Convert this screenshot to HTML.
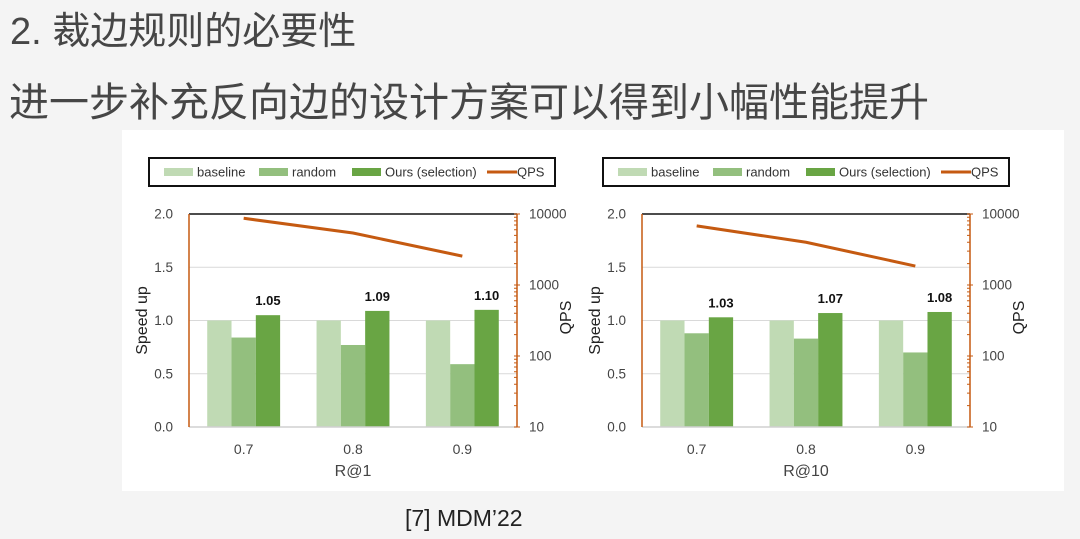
<!DOCTYPE html>
<html><head><meta charset="utf-8">
<style>
html,body{margin:0;padding:0;}
body{width:1080px;height:539px;background:#f4f4f4;position:relative;overflow:hidden;font-family:"Liberation Sans","Noto Sans CJK SC",sans-serif;}
.t{position:absolute;color:#464646;white-space:nowrap;}
</style></head><body>
<div class="t" style="left:10px;top:9px;font-size:38px;line-height:46px;">2. 裁边规则的必要性</div>
<div class="t" style="left:9px;top:79px;font-size:40px;line-height:48px;">进一步补充反向边的设计方案可以得到小幅性能提升</div>
<div class="t" style="left:405px;top:503px;font-size:23px;line-height:30px;color:#222;">[7] MDM’22</div>
<svg id="svg" width="1080" height="539" style="position:absolute;left:0;top:0" xmlns="http://www.w3.org/2000/svg">
<rect x="122" y="130" width="942" height="361" fill="#ffffff"/>
</svg>
<script>
const categories=["0.7","0.8","0.9"];
const leftBaseline=[1,1,1];
const leftRandom=[0.84,0.77,0.59];
const leftOurs=[1.05,1.09,1.10];
const leftQPS=[8700,5400,2550];
const rightBaseline=[1,1,1];
const rightRandom=[0.88,0.83,0.70];
const rightOurs=[1.03,1.07,1.08];
const rightQPS=[6800,4000,1850];
const yTicks=[0,0.5,1.0,1.5,2.0];
const qpsTicks=[10,100,1000,10000];

const NS="http://www.w3.org/2000/svg";
const svg=document.getElementById('svg');
function mk(tag,a,parent){const e=document.createElementNS(NS,tag);for(const k in a)e.setAttribute(k,a[k]);(parent||svg).appendChild(e);return e;}
function txt(s,a,parent){const e=mk('text',Object.assign({'font-family':'Liberation Sans, sans-serif'},a),parent);e.textContent=s;return e;}

function chart(name,ox,legX,xTitle,base,rand,ours,qps){
  const g=mk('g',{});
  
  
  const L=ox,R=ox+328,T=214,B=427;
  const ys=v=>B-(v/2)*(B-T);
  const yq=v=>B-(Math.log10(v)-1)/3*(B-T);
  const bw=(R-L)/3;
  const lg=mk('g',{},g);
  
  
  mk('rect',{x:legX,y:158,width:406,height:28,fill:'#fff',stroke:'#111','stroke-width':2},lg);
  const items=[['baseline','#c0dab4',15],['random','#93bf7e',110],['Ours (selection)','#69a544',203]];
  items.forEach(it=>{
    const r=mk('rect',{x:legX+it[2],y:168,width:29,height:8,fill:it[1]},lg);
    
    
    txt(it[0],{x:legX+it[2]+33,y:176.5,'font-size':13,fill:'#333'},lg);
  });
  mk('line',{x1:legX+338,y1:172,x2:legX+368,y2:172,stroke:'#c55a11','stroke-width':3},lg);
  txt('QPS',{x:legX+368,y:176.5,'font-size':13,fill:'#333'},lg);
  yTicks.forEach(v=>{
    if(v>0&&v<2)mk('line',{x1:L,y1:ys(v),x2:R,y2:ys(v),stroke:'#d9d9d9','stroke-width':1},g);
    const t=txt(v.toFixed(1),{x:L-16,y:ys(v)+4.5,'font-size':13.5,fill:'#444','text-anchor':'end'},g);
    
    
  });
  mk('line',{x1:L,y1:T,x2:R,y2:T,stroke:'#111','stroke-width':1.5},g);
  categories.forEach((c,i)=>{
    const cx=L+bw*(i+0.5), w=24.3;
    [[base,'#c0dab4','baseline'],[rand,'#93bf7e','random'],[ours,'#69a544','ours']].forEach((s,j)=>{
      const v=s[0][i];
      const r=mk('rect',{x:cx-1.5*w+j*w,y:ys(v),width:w,height:B-ys(v),fill:s[1]},g);
      
      
    });
    const lb=txt(ours[i].toFixed(2),{x:cx+w,y:ys(ours[i])-10,'font-size':13,'font-weight':'bold',fill:'#111','text-anchor':'middle'},g);
    
    
    const xl=txt(c,{x:cx,y:454,'font-size':14,fill:'#444','text-anchor':'middle'},g);
    
    
  });
  mk('line',{x1:L,y1:B,x2:R,y2:B,stroke:'#d0d0d0','stroke-width':1.5},g);
  mk('line',{x1:L,y1:T,x2:L,y2:B,stroke:'#c55a11','stroke-width':1.5},g);
  mk('line',{x1:R,y1:T,x2:R,y2:B,stroke:'#c55a11','stroke-width':1.5},g);
  for(let d=1;d<4;d++)for(let m=1;m<=10;m++){
    const v=Math.pow(10,d)*m;const y=yq(v);
    mk('line',{x1:R-3,y1:y,x2:R+(m===1||m===10?3:0),y2:y,stroke:'#c55a11','stroke-width':1},g);
  }
  qpsTicks.forEach(v=>{
    const t=txt(String(v),{x:R+12,y:yq(v)+4.5,'font-size':13.5,fill:'#444'},g);
    
    
  });
  const pts=categories.map((c,i)=>(L+bw*(i+0.5))+','+yq(qps[i])).join(' ');
  const pl=mk('polyline',{points:pts,fill:'none',stroke:'#c55a11','stroke-width':3},g);
  
  
  const yt=txt('Speed up',{x:0,y:0,'font-size':16,fill:'#222','text-anchor':'middle',transform:`translate(${L-42},${(T+B)/2}) rotate(-90)`},g);
  
  
  const qt=txt('QPS',{x:0,y:0,'font-size':16,fill:'#222','text-anchor':'middle',transform:`translate(${R+54},${(T+B)/2-3}) rotate(-90)`},g);
  
  
  const xt=txt(xTitle,{x:(L+R)/2,y:476,'font-size':16,fill:'#444','text-anchor':'middle'},g);
  
  
}
chart('chart-r-at-1',189,149,'R@1',leftBaseline,leftRandom,leftOurs,leftQPS);
chart('chart-r-at-10',642,603,'R@10',rightBaseline,rightRandom,rightOurs,rightQPS);
</script>
</body></html>
